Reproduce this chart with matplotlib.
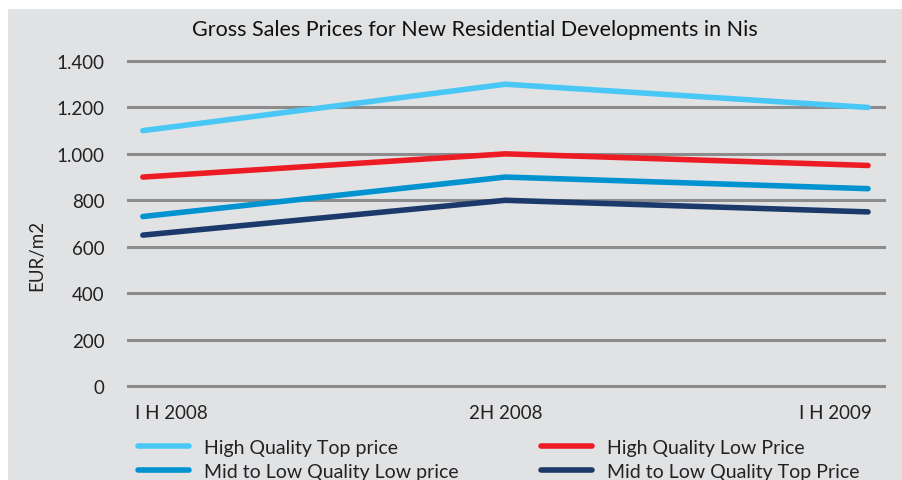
import matplotlib.pyplot as plt
from matplotlib.patches import Rectangle
from matplotlib.transforms import ScaledTranslation

periods = ["I H 2008", "2H 2008", "I H 2009"]
hq_top = [1100, 1300, 1200]
hq_low = [900, 1000, 950]
ml_low = [730, 900, 850]
ml_top = [650, 800, 750]
yticks = [0, 200, 400, 600, 800, 1000, 1200, 1400]
ytick_labels = ["0", "200", "400", "600", "800", "1.000", "1.200", "1.400"]

plt.rcParams["font.family"] = ["Lato", "DejaVu Sans"]

W, H = 903, 481
fig = plt.figure(figsize=(W / 100, H / 100), dpi=100)
bg = "#e1e2e4"
txt = "#222222"
fig.patches.append(Rectangle((8 / W, 0), 1, 1 - 10 / H, transform=fig.transFigure,
                             facecolor=bg, edgecolor="none", zorder=-10))

ax = fig.add_axes([128 / W, 1 - 387 / H, (884 - 128) / W, (387 - 62) / H])
ax.set_facecolor(bg)
x = range(len(periods))
series = [
    (hq_top, "High Quality Top price", "#4ac8f5"),
    (ml_low, "Mid to Low Quality Low price", "#0093d0"),
    (hq_low, "High Quality Low Price", "#ed1c24"),
    (ml_top, "Mid to Low Quality Top Price", "#1b3a6b"),
]
handles = []
for vals, label, color in series:
    ln, = ax.plot(x, vals, color=color, lw=4, solid_capstyle="round", label=label, zorder=3)
    handles.append(ln)

ax.set_ylim(0, 1400)
ax.set_xlim(-0.041, 2.044)
ax.set_yticks(yticks)
ax.set_yticklabels(ytick_labels)
ax.set_xticks(list(x))
ax.set_xticklabels(periods)
ax.tick_params(length=0, labelsize=13.5, colors=txt)
ax.tick_params(axis="y", pad=17)
ax.tick_params(axis="x", pad=13)
# first/last category labels sit flush with the plot ends, like Excel does
xl = ax.get_xticklabels()
xl[0].set_ha("left")
xl[0].set_transform(xl[0].get_transform() + ScaledTranslation(-0.08, 0, fig.dpi_scale_trans))
xl[-1].set_ha("right")
xl[-1].set_transform(xl[-1].get_transform() + ScaledTranslation(0.04, 0, fig.dpi_scale_trans))
ax.grid(axis="y", color="#8c8c8c", lw=2.2)
for g in ax.get_ygridlines():
    g.set_clip_on(False)
ax.set_axisbelow(True)
for s in ax.spines.values():
    s.set_visible(False)

fig.text(475 / W, 1 - 30 / H, "Gross Sales Prices for New Residential Developments in Nis",
         ha="center", va="center", fontsize=15.5, color="#111111")
fig.text(37 / W, 1 - 255 / H, "EUR/m2", rotation=90, ha="center", va="center",
         fontsize=13.5, color=txt)

leg_kw = dict(loc="upper left", ncol=1, frameon=False, fontsize=14, handlelength=2.6,
              labelspacing=0.35, handletextpad=0.8, borderaxespad=0, borderpad=0)
leg1 = fig.legend(handles=handles[:2], bbox_to_anchor=(138 / W, 1 - 440 / H), **leg_kw)
leg2 = fig.legend(handles=handles[2:], bbox_to_anchor=(541 / W, 1 - 440 / H), **leg_kw)
for leg in (leg1, leg2):
    for t in leg.get_texts():
        t.set_color(txt)

fig.savefig("out.png", dpi=100)
